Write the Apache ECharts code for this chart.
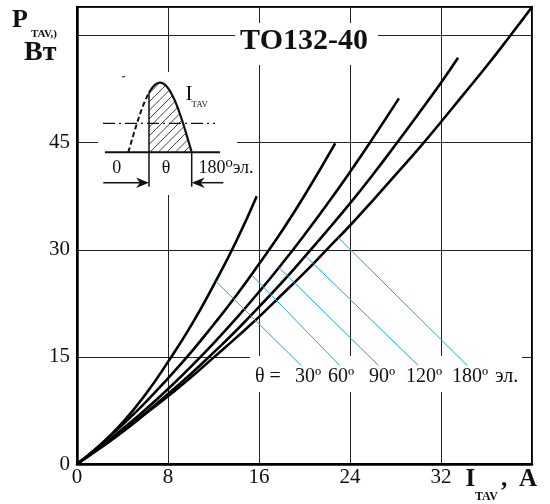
<!DOCTYPE html>
<html><head><meta charset="utf-8">
<script src="https://cdn.jsdelivr.net/npm/echarts@6/dist/echarts.min.js"></script>
<style>html,body{margin:0;padding:0;background:#fff}#c{width:550px;height:504px}</style>
</head><body><div id="c"></div>
<script>
// ---- data ----
const xTicks = [0, 8, 16, 24, 32];
const yTicks = [0, 15, 30, 45];
const angleLabels = ['30º', '60º', '90º', '120º', '180º'];
const curve30 = [[0,0],[2,2.6],[4,5.8],[6,9.7],[8,14.3],[10,19.3],[12,25.0],[14,31.2],[15.8,37.5]];
const curve60 = [[0,0],[2,2.6],[4,5.5],[6,8.6],[8,12.0],[10,15.6],[12,19.5],[14,23.6],[16,28.0],[18,32.6],[20,37.6],[22.7,44.9]];
const curve90 = [[0,0],[2,2.3],[4,4.9],[6,7.6],[8,10.5],[10,13.6],[12,16.9],[14,20.4],[16,24.1],[18,28.0],[20,32.1],[22,36.4],[24,40.9],[26,45.6],[28.3,51.2]];
const curve120 = [[0,0],[2,2.2],[4,4.6],[6,7.1],[8,9.8],[10,12.6],[12,15.6],[14,18.7],[16,22.0],[18,25.4],[20,29.0],[22,32.7],[24,36.5],[26,40.5],[28,44.7],[30,49.0],[32,53.4],[33.5,56.9]];
const curve180 = [[0,0],[2,2.2],[4,4.5],[6,7.0],[8,9.5],[10,12.1],[12,14.9],[14,17.7],[16,20.6],[18,23.7],[20,26.8],[22,30.1],[24,33.4],[26,36.9],[28,40.5],[30,44.1],[32,47.9],[34,51.8],[36,55.7],[38,59.8],[40,64.0]];
const leaderStart = [[12.2,25.6],[15.4,26.4],[17.7,27.6],[20.1,29.1],[22.9,31.8]];
const leaderEnd = [[19.7,13.8],[23.1,13.8],[26.5,13.8],[30.0,13.8],[34.3,13.8]];

const SERIF = '"Liberation Serif", "DejaVu Serif", serif';
const INK = '#111';

function txt(x, y, s, size, opts) {
  opts = opts || {};
  return {
    type: 'text', x: x, y: y, z: 20,
    style: {
      text: s, font: (opts.bold ? 'bold ' : '') + size + 'px ' + SERIF,
      fill: INK,
      textAlign: opts.align || 'left', align: opts.align || 'left',
      textVerticalAlign: 'middle', verticalAlign: 'middle'
    }
  };
}
function ln(x1, y1, x2, y2, w, dash) {
  return { type: 'line', z: 20, shape: { x1, y1, x2, y2 },
    style: { stroke: INK, lineWidth: w || 1, lineDash: dash || null } };
}
function rect(x, y, w, h) {
  return { type: 'rect', z: 1, shape: { x, y, width: w, height: h }, style: { fill: '#fff' } };
}

// ---- inset (half-wave sketch) ----
const sx0 = 128.3, sx1 = 191.7, sBase = 152.3, sAmp = 69.6, cutX = 149;
function sy(x) { return sBase - sAmp * Math.sin((x - sx0) / (sx1 - sx0) * Math.PI); }
const dashedPts = [], solidPts = [];
for (let x = sx0; x <= cutX + 0.001; x += 0.5) dashedPts.push([x, sy(x)]);
for (let x = cutX; x <= sx1 + 0.001; x += 0.5) solidPts.push([x, sy(x)]);
const hatch = [];
for (let c = 200; c <= 360; c += 8.5) {
  let first = null, last = null;
  for (let x = cutX; x <= sx1; x += 0.2) {
    const y = c - x;
    if (y >= sy(x) && y <= sBase) { if (!first) first = [x, y]; last = [x, y]; }
  }
  if (first && last && (last[0] - first[0]) > 1) hatch.push(ln(first[0], first[1], last[0], last[1], 0.8));
}

const graphics = [
  rect(98, 72, 139, 123),
  rect(235, 23, 143, 42),
  rect(250, 356, 272, 36),
  { type: 'polyline', z: 20, shape: { points: dashedPts }, style: { stroke: INK, lineWidth: 2, fill: null, lineDash: [5, 3] } },
  { type: 'polyline', z: 20, shape: { points: solidPts }, style: { stroke: INK, lineWidth: 2.2, fill: null } },
  ...hatch,
  ln(105, sBase, 220, sBase, 2),
  ln(cutX, sy(cutX), cutX, 186.7, 1.5),
  ln(sx1, sBase, sx1, 186.7, 1.5),
  ln(103, 123.3, 215, 123.3, 1.3, [12, 4, 2, 4]),
  ln(103.3, 182.7, cutX - 4, 182.7, 1.5),
  ln(sx1 + 4, 182.7, 223.3, 182.7, 1.5),
  { type: 'polygon', z: 20, shape: { points: [[cutX, 182.7], [cutX - 13, 177.5], [cutX - 9, 182.7], [cutX - 13, 187.9]] }, style: { fill: INK } },
  { type: 'polygon', z: 20, shape: { points: [[sx1, 182.7], [sx1 + 13, 177.5], [sx1 + 9, 182.7], [sx1 + 13, 187.9]] }, style: { fill: INK } },
  ln(122, 77, 125, 76.5, 1.2),
  txt(116.7, 168, '0', 18, { align: 'center' }),
  txt(166, 168, 'θ', 18, { align: 'center' }),
  txt(198.5, 168, '180⁰эл.', 18),
  txt(185.5, 94, 'I', 21),
  txt(191.5, 105, 'TAV', 9),
  // title
  txt(304, 41, 'ТО132-40', 30, { bold: true, align: 'center' }),
  // y-axis title
  txt(12, 20, 'P', 26, { bold: true }),
  txt(31, 34, 'TAV,)', 11, { bold: true }),
  txt(24, 52.5, 'Вт', 28, { bold: true }),
  // x-axis title
  txt(465.5, 480, 'I', 25, { bold: true }),
  txt(475, 497, 'TAV', 12, { bold: true }),
  txt(501, 480, ',', 25, { bold: true }),
  txt(519, 480, 'A', 25, { bold: true }),
  // angle labels
  txt(255, 377, 'θ =', 20),
];
const angleX = [295, 328, 369, 406, 452];
angleLabels.forEach((s, i) => graphics.push(txt(angleX[i], 377, s, 20)));
graphics.push(txt(495, 377, 'эл.', 20));

const chart = echarts.init(document.getElementById('c'), null, { renderer: 'canvas' });
const lineStyle = { color: '#000', width: 2.6 };
function curve(d) {
  return { type: 'line', data: d, smooth: true, showSymbol: false, symbol: 'none', lineStyle: lineStyle, z: 3, silent: true };
}
chart.setOption({
  animation: false,
  backgroundColor: '#fff',
  grid: { left: 77, right: 18, top: 7, bottom: 40, show: true, borderColor: '#000', borderWidth: 2, backgroundColor: 'transparent' },
  xAxis: {
    type: 'value', min: 0, max: 40, interval: 8,
    axisLine: { show: true, lineStyle: { color: '#000', width: 2.5 } },
    axisTick: { show: false },
    splitLine: { show: true, lineStyle: { color: '#222', width: 1 } },
    axisLabel: { color: INK, fontFamily: SERIF, fontSize: 21, margin: 3,
      formatter: v => xTicks.includes(v) ? String(v) : '' }
  },
  yAxis: {
    type: 'value', min: 0, max: 64, interval: 15,
    axisLine: { show: true, lineStyle: { color: '#000', width: 2.5 } },
    axisTick: { show: false },
    splitLine: { show: true, lineStyle: { color: '#222', width: 1 } },
    axisLabel: { color: INK, fontFamily: SERIF, fontSize: 21, margin: 7,
      formatter: v => yTicks.includes(v) ? String(v) : '' }
  },
  series: [
    curve(curve30), curve(curve60), curve(curve90), curve(curve120), curve(curve180),
    {
      type: 'lines', coordinateSystem: 'cartesian2d', z: 4, silent: true,
      lineStyle: { color: '#1fa7df', width: 1, opacity: 1 },
      data: leaderStart.map((s, i) => ({ coords: [s, leaderEnd[i]] }))
    }
  ],
  graphic: { elements: graphics }
});
</script>
</body></html>
